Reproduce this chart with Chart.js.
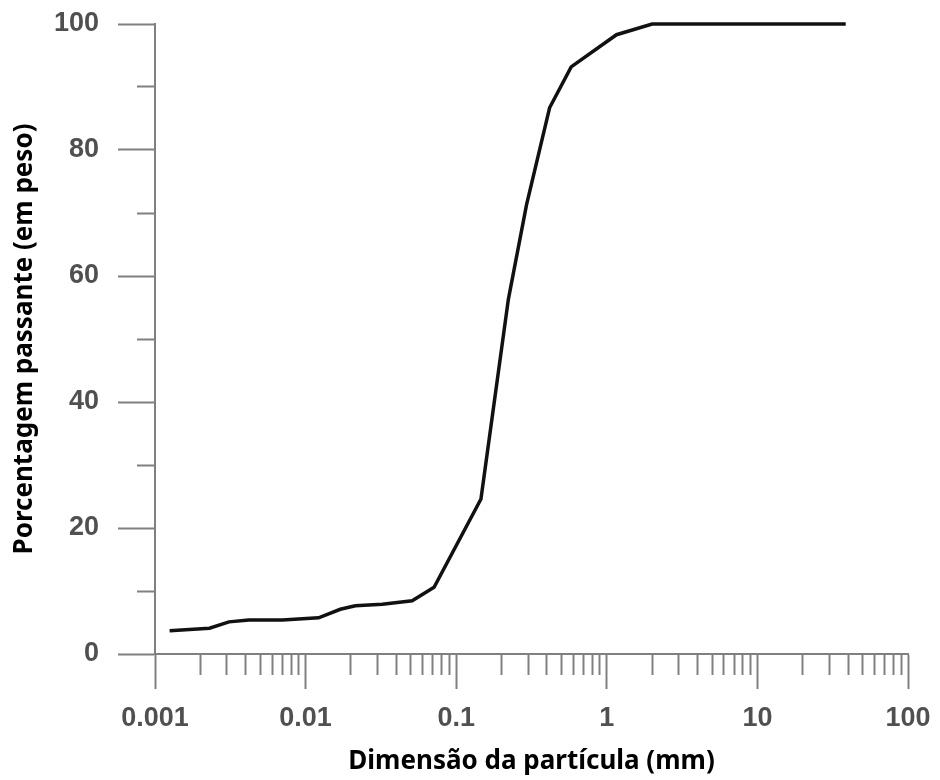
<!DOCTYPE html>
<html>
<head>
<meta charset="utf-8">
<script src="https://cdn.jsdelivr.net/npm/chart.js@4"></script>
<style>
  html, body { margin: 0; padding: 0; background: #fff; }
  #wrap { width: 940px; height: 780px; }
</style>
</head>
<body>
<div id="wrap"><canvas id="myChart" width="940" height="780"></canvas></div>
<script>
// Curva granulométrica: dimensão da partícula (mm) x porcentagem passante
const diametros = [0.00125, 0.0023, 0.0031, 0.0042, 0.007, 0.0122, 0.017, 0.0214, 0.0323, 0.051,
                   0.0713, 0.146, 0.222, 0.293, 0.417, 0.58, 1.16, 2.0, 38.6];
const passante = [3.7, 4.1, 5.1, 5.4, 5.4, 5.75, 7.1, 7.65, 7.9, 8.45,
                  10.6, 24.6, 56.3, 71.3, 86.7, 93.2, 98.3, 100, 100];
const decadas = [0.001, 0.01, 0.1, 1, 10, 100];
const yRotulos = [0, 20, 40, 60, 80, 100];

const pontos = diametros.map((d, i) => ({ x: d, y: passante[i] }));

// marcas do eixo x: 1..9 em cada década
const xMarcas = [];
decadas.forEach((d, i) => {
  if (i === decadas.length - 1) { xMarcas.push(d); return; }
  for (let k = 1; k <= 9; k++) xMarcas.push(+(d * k).toPrecision(3));
});
const ehDecada = v => decadas.some(d => Math.abs(d - v) / d < 1e-6);

const cinza = '#808080';
const fonteTicks = { family: 'Liberation Sans', size: 27, weight: 'bold' };
const fonteTitulo = { family: 'Noto Sans', size: 26, weight: 'bold' };

new Chart(document.getElementById('myChart'), {
  type: 'scatter',
  data: {
    datasets: [{
      data: pontos,
      showLine: true,
      borderColor: '#111',
      borderWidth: 3.5,
      pointRadius: 0,
      tension: 0,
      clip: false
    }]
  },
  options: {
    responsive: false,
    animation: false,
    layout: { padding: { top: 24, right: 32, left: 0, bottom: 0 } },
    plugins: { legend: { display: false }, tooltip: { enabled: false } },
    scales: {
      x: {
        type: 'logarithmic',
        min: 0.001,
        max: 100,
        afterBuildTicks: s => { s.ticks = xMarcas.map(v => ({ value: v })); },
        afterFit: s => { s.height = 126; s.paddingLeft = 0; s.paddingRight = 0; },
        border: { display: true, color: cinza, width: 2 },
        grid: {
          drawOnChartArea: false,
          drawTicks: true,
          tickLength: 35,
          tickWidth: 2,
          tickColor: cinza,
          tickBorderDash: ctx => ehDecada(ctx.tick.value) ? [] : [20, 100]
        },
        ticks: {
          autoSkip: false,
          maxRotation: 0,
          padding: 13,
          color: '#505050',
          font: fonteTicks,
          callback: v => ehDecada(v) ? String(v) : ''
        },
        title: {
          display: true,
          text: 'Dimensão da partícula (mm)',
          color: '#000',
          font: fonteTitulo,
          padding: { top: 0, bottom: 3 }
        }
      },
      y: {
        min: 0,
        max: 100,
        afterBuildTicks: s => { s.ticks = [0,10,20,30,40,50,60,70,80,90,100].map(v => ({ value: v })); },
        afterFit: s => { s.width = 155; s.paddingTop = 0; s.paddingBottom = 0; },
        border: { display: true, color: cinza, width: 2 },
        grid: {
          drawOnChartArea: false,
          drawTicks: true,
          tickLength: 37,
          tickWidth: 2,
          tickColor: cinza,
          tickBorderDash: ctx => yRotulos.includes(ctx.tick.value) ? [] : [0, 19, 18, 100]
        },
        ticks: {
          padding: 19,
          color: '#505050',
          font: fonteTicks,
          callback: v => yRotulos.includes(v) ? String(v) : ''
        },
        title: {
          display: true,
          text: 'Porcentagem passante (em peso)',
          color: '#000',
          font: fonteTitulo,
          padding: { top: 9, bottom: 0 }
        }
      }
    }
  }
});
</script>
</body>
</html>
